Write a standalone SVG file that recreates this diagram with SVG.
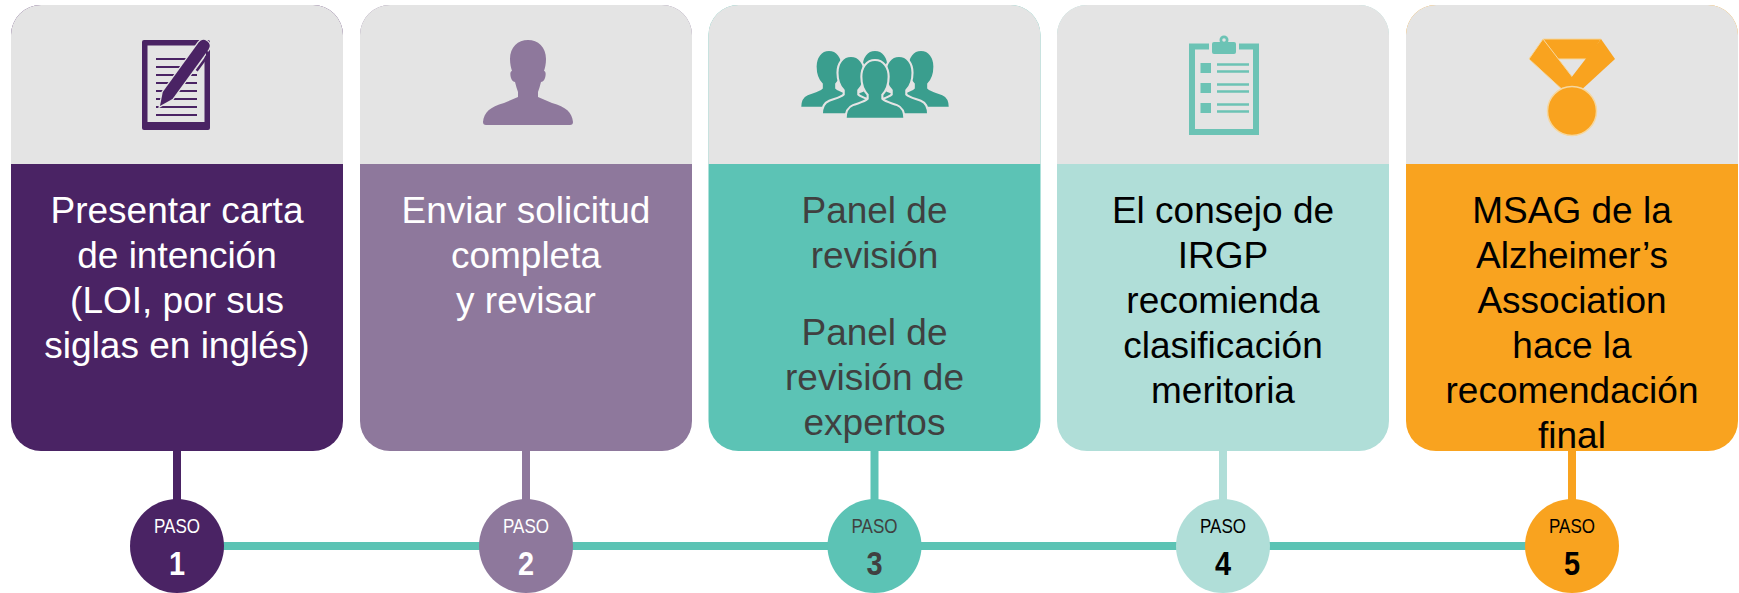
<svg xmlns="http://www.w3.org/2000/svg" width="1739" height="593" viewBox="0 0 1739 593">
<style>
.hdr{fill:#E4E4E4}
.t{font-family:"Liberation Sans",Arial,sans-serif;font-size:37px;text-anchor:middle}
.paso{font-family:"Liberation Sans",Arial,sans-serif;font-size:20px;text-anchor:middle}
.num{font-family:"Liberation Sans",Arial,sans-serif;font-size:34px;font-weight:bold;text-anchor:middle}
.w{fill:#FFFFFF}
.g{fill:#404040}
.k{fill:#000000}
.fig{fill:#3A9E8E;stroke:#E4E4E4;stroke-width:2}
</style>
<defs>
<path id="person" d="M0,0 C8,0 13,7 13,16 C13,24 10,30 7,33 L7,37 C10,40 16,41 21,43 C26,45 28,49 28,56 L-28,56 C-28,49 -26,45 -21,43 C-16,41 -10,40 -7,37 L-7,33 C-10,30 -13,24 -13,16 C-13,7 -8,0 0,0 Z"/>
</defs>
<rect width="1739" height="593" fill="#FFFFFF"/>

<g id="connectors">
<line x1="177" y1="546" x2="1572" y2="546" stroke="#5BC3B4" stroke-width="8"/>
<line x1="177" y1="440" x2="177" y2="502" stroke="#4A2364" stroke-width="8"/>
<line x1="526" y1="440" x2="526" y2="502" stroke="#8E789C" stroke-width="8"/>
<line x1="874.5" y1="440" x2="874.5" y2="502" stroke="#5CC3B5" stroke-width="8"/>
<line x1="1223" y1="440" x2="1223" y2="502" stroke="#B0DED8" stroke-width="8"/>
<line x1="1572" y1="440" x2="1572" y2="502" stroke="#F9A31F" stroke-width="8"/>
</g>

<g id="card1">
<rect x="11" y="5" width="332" height="446" rx="30" fill="#4A2364"/>
<path class="hdr" d="M11,164 V35 A30,30 0 0 1 41,5 H313 A30,30 0 0 1 343,35 V164 Z"/>
<g id="icon-doc">
<rect x="142" y="40" width="68" height="90" rx="2" fill="#4A2364"/>
<rect x="147.5" y="45.5" width="57" height="76.5" fill="#E4E4E4"/>
<g stroke="#4A2364" stroke-width="2.2">
<line x1="156" y1="59" x2="197" y2="59"/>
<line x1="156" y1="67" x2="197" y2="67"/>
<line x1="156" y1="75" x2="197" y2="75"/>
<line x1="156" y1="83" x2="197" y2="83"/>
<line x1="156" y1="91" x2="197" y2="91"/>
<line x1="156" y1="99" x2="197" y2="99"/>
<line x1="156" y1="107" x2="197" y2="107"/>
<line x1="156" y1="115" x2="197" y2="115"/>
</g>
<g transform="translate(160,106) rotate(-54)">
<path d="M0,0 L13,-6 L74,-6 Q80,-6 80,0 Q80,6 74,6 L13,6 Z" fill="#4A2364" stroke="#E4E4E4" stroke-width="2.5" paint-order="stroke"/>
<path d="M50,9 L68,9 L72,6" fill="none" stroke="#4A2364" stroke-width="2.5"/>
</g>
</g>
<text class="t w" x="177" y="223">Presentar carta</text>
<text class="t w" x="177" y="268">de intención</text>
<text class="t w" x="177" y="313">(LOI, por sus</text>
<text class="t w" x="177" y="358">siglas en inglés)</text>
</g>

<g id="card2">
<rect x="360" y="5" width="332" height="446" rx="30" fill="#8E789C"/>
<path class="hdr" d="M360,164 V35 A30,30 0 0 1 390,5 H662 A30,30 0 0 1 692,35 V164 Z"/>
<g id="icon-person" fill="#8E789C">
<path d="M528,40 C538,40 546,47 546,59 C546,64 545,68 544,71 C546,71 546,75 545,78 C544,81 542,82 541,82 C540,86 539,89 538,92 L538,97 L552,103 C566,107 572,112 573,122 C573,124 572,125 570,125 L486,125 C484,125 483,124 483,122 C484,112 490,107 504,103 L518,97 L518,92 C517,89 516,86 515,82 C514,82 512,81 511,78 C510,75 510,71 512,71 C511,68 510,64 510,59 C510,47 518,40 528,40 Z"/>
</g>
<text class="t w" x="526" y="223">Enviar solicitud</text>
<text class="t w" x="526" y="268">completa</text>
<text class="t w" x="526" y="313">y revisar</text>
</g>

<g id="card3">
<rect x="708.5" y="5" width="332" height="446" rx="30" fill="#5CC3B5"/>
<path class="hdr" d="M708.5,164 V35 A30,30 0 0 1 738.5,5 H1010.5 A30,30 0 0 1 1040.5,35 V164 Z"/>
<g id="icon-group">
<use href="#person" class="fig" transform="translate(829,50) scale(1.03)"/>
<use href="#person" class="fig" transform="translate(921,50) scale(1.03)"/>
<use href="#person" class="fig" transform="translate(875,50) scale(1.03)"/>
<use href="#person" class="fig" transform="translate(851,56) scale(1.04)"/>
<use href="#person" class="fig" transform="translate(899,56) scale(1.04)"/>
<use href="#person" class="fig" transform="translate(875,60) scale(1.05)"/>
</g>
<text class="t g" x="874.5" y="223">Panel de</text>
<text class="t g" x="874.5" y="268">revisión</text>
<text class="t g" x="874.5" y="345">Panel de</text>
<text class="t g" x="874.5" y="390">revisión de</text>
<text class="t g" x="874.5" y="435">expertos</text>
</g>

<g id="card4">
<rect x="1057" y="5" width="332" height="446" rx="30" fill="#B0DED8"/>
<path class="hdr" d="M1057,164 V35 A30,30 0 0 1 1087,5 H1359 A30,30 0 0 1 1389,35 V164 Z"/>
<g id="icon-clipboard" fill="#6CC3B5">
<path d="M1209,46.5 H1192 V132 H1256 V46.5 H1239" fill="none" stroke="#6CC3B5" stroke-width="6"/>
<rect x="1212" y="42" width="24" height="12" rx="2"/>
<circle cx="1224" cy="40" r="4.5"/>
<circle cx="1224" cy="40" r="1.8" fill="#E4E4E4"/>
<rect x="1200.5" y="63" width="10.5" height="10"/>
<rect x="1200.5" y="83" width="10.5" height="10"/>
<rect x="1200.5" y="103" width="10.5" height="10"/>
<g stroke="#6CC3B5" stroke-width="2.5">
<line x1="1217" y1="64.5" x2="1249" y2="64.5"/>
<line x1="1217" y1="71.5" x2="1249" y2="71.5"/>
<line x1="1217" y1="84.5" x2="1249" y2="84.5"/>
<line x1="1217" y1="91.5" x2="1249" y2="91.5"/>
<line x1="1217" y1="104.5" x2="1249" y2="104.5"/>
<line x1="1217" y1="111.5" x2="1249" y2="111.5"/>
</g>
</g>
<text class="t k" x="1223" y="223">El consejo de</text>
<text class="t k" x="1223" y="268">IRGP</text>
<text class="t k" x="1223" y="313">recomienda</text>
<text class="t k" x="1223" y="358">clasificación</text>
<text class="t k" x="1223" y="403">meritoria</text>
</g>

<g id="card5">
<rect x="1406" y="5" width="332" height="446" rx="30" fill="#F9A31F"/>
<path class="hdr" d="M1406,164 V35 A30,30 0 0 1 1436,5 H1708 A30,30 0 0 1 1738,35 V164 Z"/>
<g id="icon-medal" fill="#F9A31F" stroke="#F6D79E" stroke-width="1">
<path d="M1543,39 H1601 L1589,59 H1555 Z"/>
<path d="M1543,39 L1529,59 L1566,93 L1580,87 Z"/>
<path d="M1601,39 L1615,59 L1578,93 L1564,87 Z" stroke="none"/>
<circle cx="1572" cy="111" r="24.5" stroke-width="1.5"/>
</g>
<text class="t k" x="1572" y="223">MSAG de la</text>
<text class="t k" x="1572" y="268">Alzheimer’s</text>
<text class="t k" x="1572" y="313">Association</text>
<text class="t k" x="1572" y="358">hace la</text>
<text class="t k" x="1572" y="403">recomendación</text>
<text class="t k" x="1572" y="448">final</text>
</g>

<g id="step1">
<circle cx="177" cy="546" r="47" fill="#4A2364"/>
<text class="paso w" transform="translate(177,533) scale(0.85,1)">PASO</text>
<text class="num w" transform="translate(177,575) scale(0.85,1)">1</text>
</g>
<g id="step2">
<circle cx="526" cy="546" r="47" fill="#8E789C"/>
<text class="paso w" transform="translate(526,533) scale(0.85,1)">PASO</text>
<text class="num w" transform="translate(526,575) scale(0.85,1)">2</text>
</g>
<g id="step3">
<circle cx="874.5" cy="546" r="47" fill="#5CC3B5"/>
<text class="paso g" transform="translate(874.5,533) scale(0.85,1)">PASO</text>
<text class="num g" transform="translate(874.5,575) scale(0.85,1)">3</text>
</g>
<g id="step4">
<circle cx="1223" cy="546" r="47" fill="#B0DED8"/>
<text class="paso k" transform="translate(1223,533) scale(0.85,1)">PASO</text>
<text class="num k" transform="translate(1223,575) scale(0.85,1)">4</text>
</g>
<g id="step5">
<circle cx="1572" cy="546" r="47" fill="#F9A31F"/>
<text class="paso k" transform="translate(1572,533) scale(0.85,1)">PASO</text>
<text class="num k" transform="translate(1572,575) scale(0.85,1)">5</text>
</g>
</svg>
